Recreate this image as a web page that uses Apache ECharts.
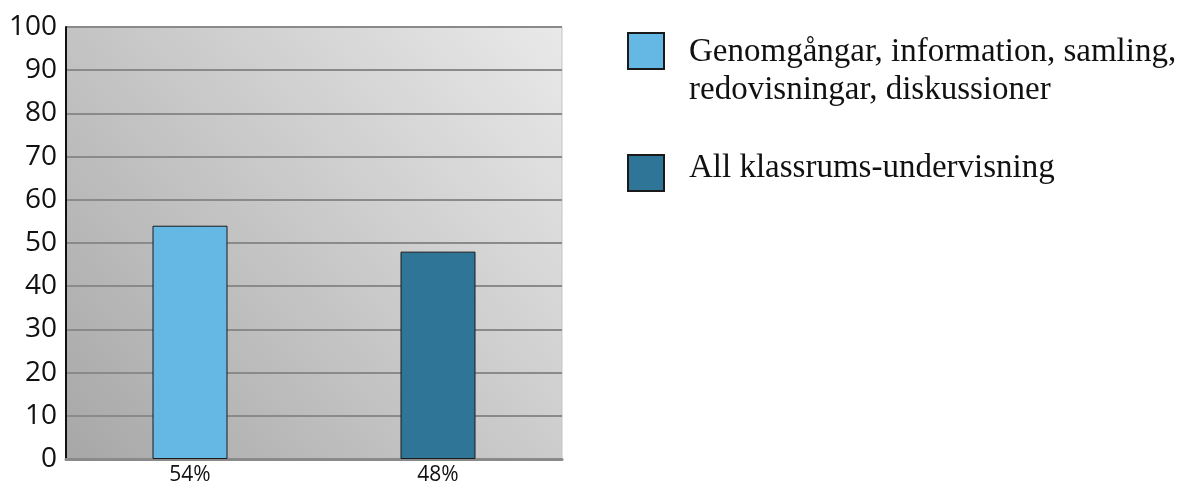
<!DOCTYPE html>
<html>
<head>
<meta charset="utf-8">
<script src="https://cdn.jsdelivr.net/npm/echarts@6/dist/echarts.min.js"></script>
<style>
  html, body { margin: 0; padding: 0; background: #fff; }
  #chart { width: 1181px; height: 486px; }
</style>
</head>
<body>
<div id="chart"></div>
<script>
const categories = ['54%', '48%']
const seriesNames = [
  'Genomgångar, information, samling,\nredovisningar, diskussioner',
  'All klassrums-undervisning'
]
const genomgangar = [54, '-']
const klassrum = ['-', 48]

const chart = echarts.init(document.getElementById('chart'))

const legendText = {
  fontFamily: 'Liberation Serif',
  fontSize: 33,
  lineHeight: 38,
  color: '#111',
  padding: [0, 0, 0, 20],
  rich: {
    sp: { fontSize: 1, lineHeight: 40 },   // spacer lines to move the text against the icon
    sp2: { fontSize: 1, lineHeight: 10 }
  }
}

const option = {
  backgroundColor: '#fff',
  animation: false,
  grid: {
    left: 66,
    right: 619,
    top: 27,
    bottom: 27,
    show: true,
    borderWidth: 1,
    borderColor: '#c4c4c4',
    // dark bottom-left to light top-right
    backgroundColor: new echarts.graphic.LinearGradient(0, 1, 1, 0, [
      { offset: 0, color: '#a7a7a7' },
      { offset: 1, color: '#e9e9e9' }
    ])
  },
  legend: [
    {
      data: [seriesNames[0]],
      orient: 'vertical',
      left: 627,
      top: -7,
      padding: 0,
      icon: 'rect',
      itemWidth: 36,
      itemHeight: 36,
      formatter: name => '{sp| }\n' + name,
      textStyle: legendText
    },
    {
      data: [seriesNames[1]],
      orient: 'vertical',
      left: 627,
      top: 149,
      padding: 0,
      icon: 'rect',
      itemWidth: 36,
      itemHeight: 36,
      formatter: name => name + '\n{sp2| }',
      textStyle: legendText
    }
  ],
  xAxis: {
    type: 'category',
    data: categories,
    axisLine: { lineStyle: { color: '#8a8a8a', width: 3 } },
    axisTick: { show: false },
    axisLabel: {
      fontFamily: 'Open Sans',
      fontSize: 21,
      color: '#111',
      margin: 6
    }
  },
  yAxis: {
    type: 'value',
    min: 0,
    max: 100,
    interval: 10,
    axisLine: { show: true, lineStyle: { color: '#111', width: 2 } },
    axisTick: { show: false },
    splitLine: { lineStyle: { color: '#8a8a8a', width: 2 } },
    axisLabel: {
      fontFamily: 'Open Sans',
      fontSize: 28,
      color: '#111',
      margin: 9
    }
  },
  series: [
    {
      name: seriesNames[0],
      type: 'bar',
      data: genomgangar,
      barWidth: 75,
      barGap: '-100%',
      itemStyle: { color: '#66b8e4', borderColor: '#1a1a1a', borderWidth: 1 }
    },
    {
      name: seriesNames[1],
      type: 'bar',
      data: klassrum,
      barWidth: 75,
      itemStyle: { color: '#2e7598', borderColor: '#1a1a1a', borderWidth: 1 }
    }
  ]
}

chart.setOption(option)
</script>
</body>
</html>
